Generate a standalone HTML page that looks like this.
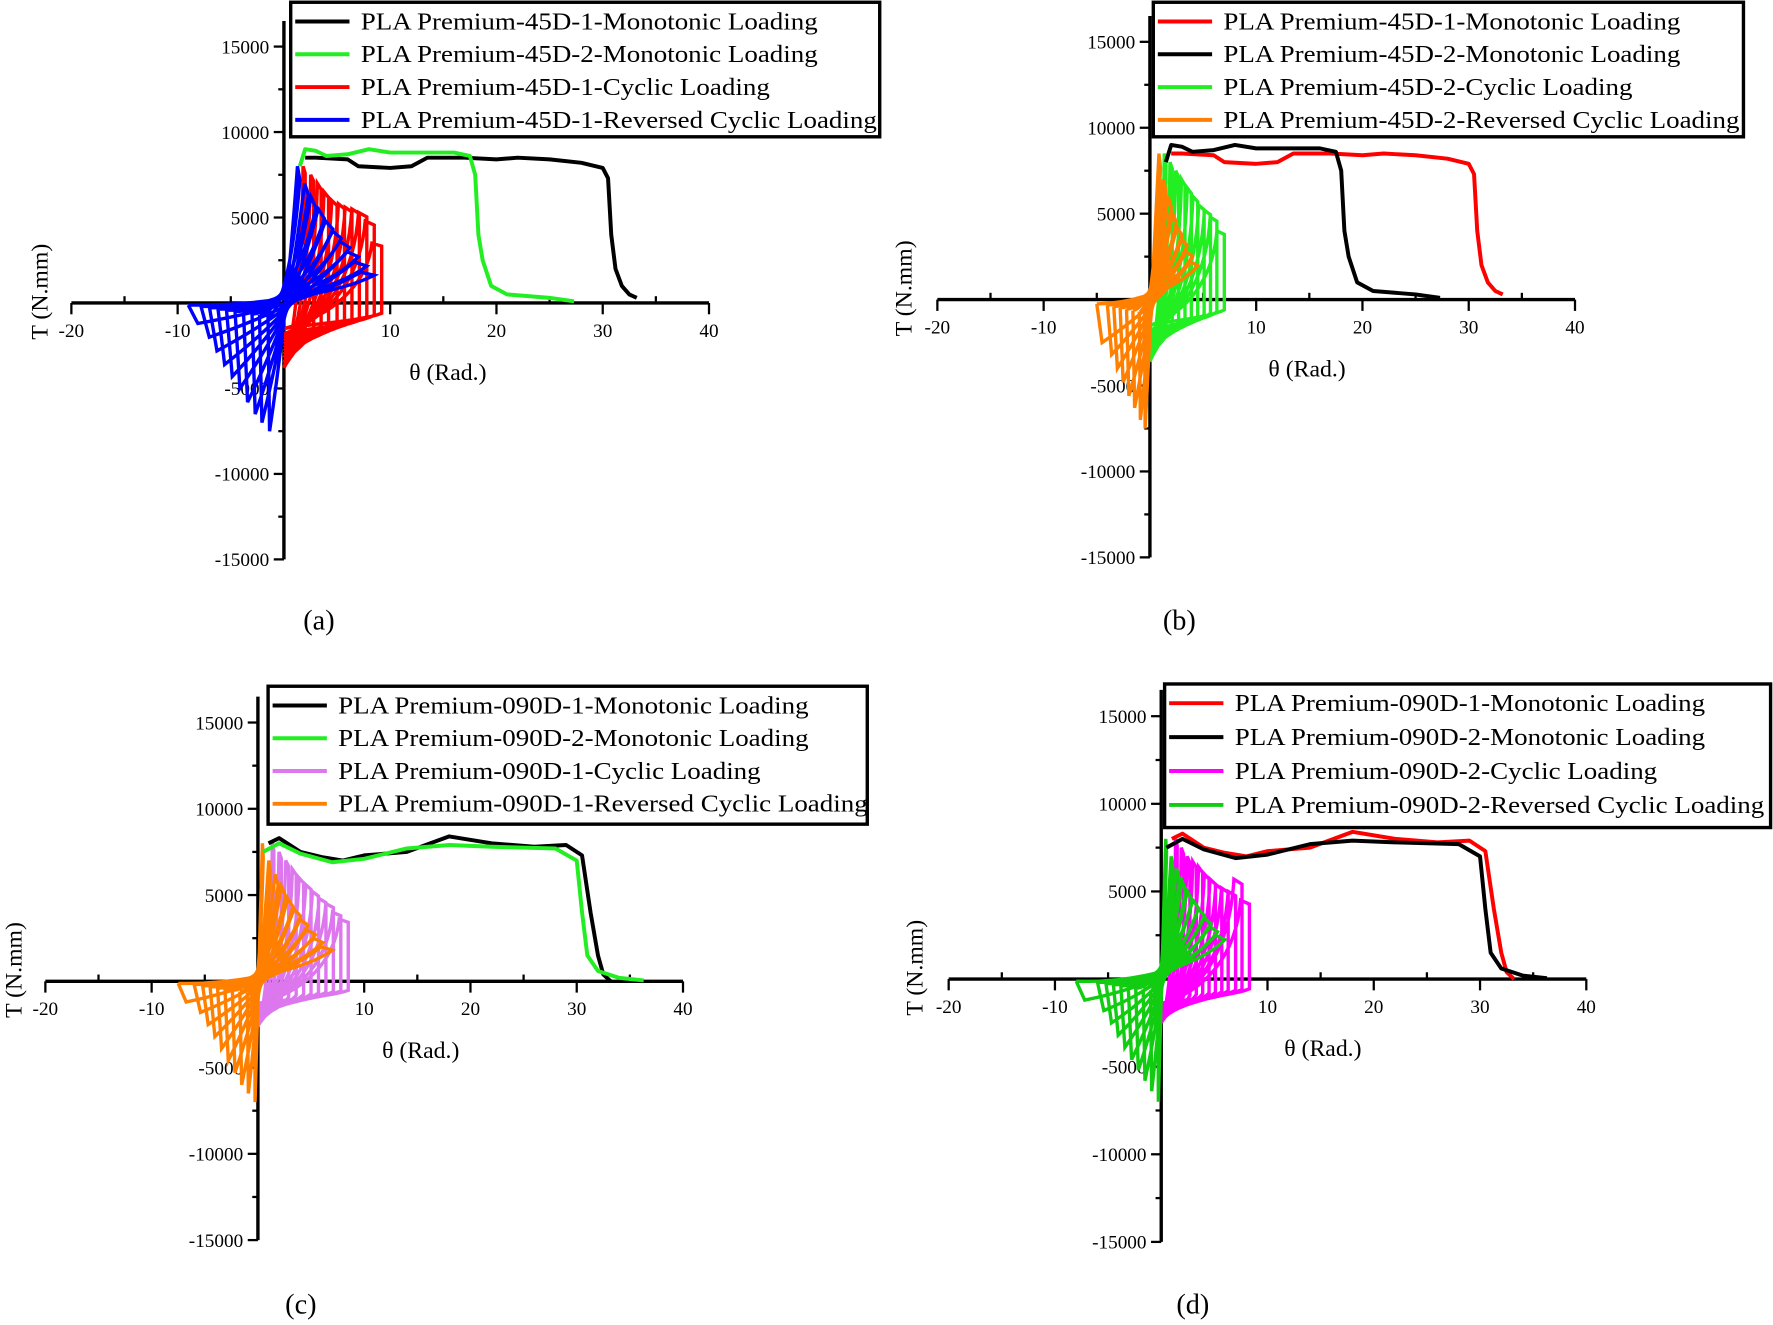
<!DOCTYPE html>
<html><head><meta charset="utf-8"><style>
html,body{margin:0;padding:0;background:#fff}
svg{display:block;font-family:"Liberation Serif",serif}
</style></head><body>
<svg id="fig" width="1773" height="1325" viewBox="0 0 1568 1172" xmlns="http://www.w3.org/2000/svg"></svg>
<script>
// ---- data arrays ----
const mono45_1 = [[2,8500],[3,8500],[6,8400],[7,8000],[10,7900],[12,8000],[13.5,8500],[17,8500],[20,8400],[22,8500],[25,8400],[28,8200],[30,7900],[30.5,7300],[30.8,4000],[31.2,2000],[31.8,1000],[32.5,500],[33.2,300]];
const mono45_2 = [[1.5,8000],[2,9000],[3,8900],[4,8600],[6,8700],[8,9000],[10,8800],[13,8800],[16,8800],[17.5,8600],[18,7500],[18.3,4000],[18.7,2500],[19.5,1000],[21,500],[25,300],[27.3,100]];
const mono090_1 = [[1,8000],[2,8300],[4,7500],[6,7200],[8,7000],[10,7300],[14,7500],[18,8400],[22,8000],[26,7800],[29,7900],[30.5,7300],[31.3,4000],[32,1500],[32.5,400],[33.2,0]];
const mono090_2 = [[0.5,7500],[2,8000],[4,7400],[7,6900],[10,7100],[14,7700],[18,7900],[22,7800],[28,7700],[30,7000],[30.5,4000],[31,1500],[32,600],[34,200],[36.3,50]];
// cyclic: peak theta, peak T, bottom T
const cycA_pk = [2,2.8,3.5,4.2,5,5.7,6.4,7.1,7.8,8.5,9.2];
const cycA_T = [8000,7500,7000,6500,6000,5800,5600,5500,5300,4800,3500];
const cycA_low = [-3800,-3500,-3200,-3000,-2800,-2600,-2400,-2200,-2000,-1800,-1500];
const revA_pk = [1.5,2.3,3,3.8,4.6,5.4,6.2,7,7.8,8.5];
const revA_pT = [8000,7000,6200,5500,4800,4200,3600,3000,2400,1800];
const revA_nk = [-1.5,-2.3,-3,-3.8,-4.6,-5.4,-6.2,-7,-7.8,-9];
const revA_nT = [-7500,-7000,-6500,-5800,-5000,-4300,-3600,-2800,-2000,-1200];
const cycB_pk = [1.5,2.1,2.7,3.3,3.9,4.5,5.1,5.7,6.3,7];
const cycB_T = [8500,8000,7500,7000,6500,6000,5500,5200,4800,4000];
const cycB_low = [-3600,-3300,-3000,-2800,-2600,-2400,-2200,-2000,-1800,-1500];
const revB_pk = [1,1.5,2,2.5,3,3.5,4,4.5];
const revB_pT = [8500,7000,6000,5000,4200,3500,2800,2200];
const revB_nk = [-0.5,-1,-1.6,-2.2,-2.8,-3.4,-4,-5];
const revB_nT = [-7500,-7000,-6300,-5600,-4800,-4000,-3200,-2500];
const cycC_pk = [1.5,2.2,2.9,3.6,4.3,5,5.7,6.4,7.1,7.8,8.5];
const cycC_T = [8000,7500,7000,6500,6000,5600,5200,4800,4500,4000,3600];
const cycC_low = [-2600,-2400,-2200,-2000,-1900,-1800,-1700,-1600,-1500,-1400,-1300];
const revC_pk = [0.5,1.2,1.9,2.6,3.3,4,4.7,5.4,6.1,7];
const revC_pT = [8000,7000,6200,5500,4800,4200,3600,3000,2500,2000];
const revC_nk = [-0.3,-1,-1.7,-2.4,-3.1,-3.8,-4.5,-5.2,-6,-7.5];
const revC_nT = [-7000,-6500,-6000,-5300,-4600,-3900,-3200,-2500,-1800,-1200];
const cycD_pk = [1.5,2.1,2.7,3.3,3.9,4.5,5.1,5.7,6.3,7,7.6,8.3];
const cycD_T = [8000,7500,7000,6700,6400,6000,5700,5400,5200,5000,5700,4500];
const cycD_low = [-2500,-2400,-2300,-2200,-2100,-2000,-1900,-1800,-1700,-1600,-1500,-1400];
const revD_pk = [0.5,1.1,1.7,2.3,2.9,3.5,4.1,4.7,5.3,6];
const revD_pT = [8000,7000,6300,5600,5000,4500,4000,3500,3000,2500];
const revD_nk = [-0.3,-1,-1.7,-2.4,-3.1,-3.8,-4.5,-5.2,-6,-8];
const revD_nT = [-7000,-6400,-5800,-5200,-4600,-3900,-3200,-2500,-1800,-1200];
const xTicks = [-20,-10,10,20,30,40];
const yTicks = [15000,10000,5000,-5000,-10000,-15000];

const NS='http://www.w3.org/2000/svg';
const svg=document.getElementById('fig');
function el(tag,attrs,parent){const e=document.createElementNS(NS,tag);for(const k in attrs)e.setAttribute(k,attrs[k]);(parent||svg).appendChild(e);return e;}

function panel(cfg){
  const g=el('g',{});
  
  
  const X=v=>cfg.x0+v*cfg.sx, Y=v=>cfg.y0-v*cfg.sy;
  const ax=el('line',{x1:X(-20),x2:X(40),y1:Y(0),y2:Y(0),stroke:'#000','stroke-width':3},g);
  
  const ay=el('line',{x1:X(0),x2:X(0),y1:Y(16500),y2:Y(-15000),stroke:'#000','stroke-width':3},g);
  
  for(let v=-20;v<=40;v+=5){
    const maj=v%10===0;
    el('line',{x1:X(v),x2:X(v),y1:Y(0),y2:Y(0)+(maj?10:-6),stroke:'#000','stroke-width':2},g);
  }
  for(let v=-15000;v<=15000;v+=2500){
    const maj=v%5000===0;
    el('line',{x1:X(0),x2:X(0)-(maj?9:5),y1:Y(v),y2:Y(v),stroke:'#000','stroke-width':2},g);
  }
  xTicks.forEach(v=>{const t=el('text',{x:X(v),y:Y(0)+30,'text-anchor':'middle','font-size':17},g);t.textContent=v;
    });
  yTicks.forEach(v=>{const t=el('text',{x:X(0)-13,y:Y(v)+6,'text-anchor':'end','font-size':17},g);t.textContent=v;
    });
  const xl=el('text',{x:cfg.xlx,y:Y(0)+68,'text-anchor':'middle','font-size':21},g);xl.textContent='θ (Rad.)';
  
  const yl=el('text',{x:0,y:0,'text-anchor':'middle','font-size':21,transform:`translate(${cfg.ylx},${Y(0)-10}) rotate(-90)`},g);yl.textContent='T (N.mm)';
  
  const cap=el('text',{x:cfg.capx,y:cfg.capy,'text-anchor':'middle','font-size':25},g);cap.textContent='('+cfg.id+')';
  
  const cyc=cfg.cyc;
  let d='';
  cyc.pk.forEach((p,i)=>{
    const T=cyc.T[i], lo=cyc.low[i];
    d+=`M${X(0)},${Y(lo)} C${X(p*0.5)},${Y(lo*0.5)} ${X(p*0.85)},${Y(T*0.3)} ${X(p*0.9)},${Y(T)} L${X(p)},${Y(T*0.95)} L${X(p)},${Y(lo*0.4)} C${X(p*0.8)},${Y(lo*0.7)} ${X(p*0.3)},${Y(lo*0.8)} ${X(0)},${Y(lo)} `;
  });
  const pc=el('path',{d,fill:'none',stroke:cfg.cycColor,'stroke-width':3},g);
  
  const rv=cfg.rev;
  d='';
  rv.pk.forEach((p,i)=>{
    const pT=rv.pT[i], n=rv.nk[i], nT=rv.nT[i];
    d+=`M${X(n)},${Y(nT*0.1)} L${X(n*0.9)},${Y(nT)} C${X(n*0.3)},${Y(nT*0.5)} ${X(p*0.3)},${Y(pT*0.1)} ${X(p*0.85)},${Y(pT)} L${X(p)},${Y(pT*0.9)} C${X(p*0.6)},${Y(pT*0.3)} ${X(n*0.3)},${Y(-pT*0.1)} ${X(n)},${Y(nT*0.1)} `;
  });
  const pr=el('path',{d,fill:'none',stroke:cfg.revColor,'stroke-width':3},g);
  
  cfg.monos.forEach(([arr,col,nm])=>{
    const p=el('polyline',{points:arr.map(q=>X(q[0])+','+Y(q[1])).join(' '),fill:'none',stroke:col,'stroke-width':3.5,'stroke-linejoin':'round'},g);
    
  });
  const L=cfg.leg;
  const lg=el('g',{},g);
  
  el('rect',{x:L.x,y:L.y,width:L.w,height:L.h,fill:'#fff',stroke:'#000','stroke-width':3},lg);
  L.items.forEach(([txt,col],i)=>{
    const yy=L.y+17+i*L.dy;
    el('line',{x1:L.x+4,x2:L.x+52,y1:yy,y2:yy,stroke:col,'stroke-width':3.5},lg);
    const t=el('text',{x:L.x+62,y:yy+7,'font-size':21.5},lg);t.textContent=txt;
    
    const w=t.getComputedTextLength();
    if(w>0){t.setAttribute('textLength',(w*1.11).toFixed(1));t.setAttribute('lengthAdjust','spacingAndGlyphs');}
  });
}

const k=9.4;
panel({id:'a',x0:251,y0:268,sx:k,sy:75.6/5000,xlx:396,ylx:42,capx:282,capy:557,
  cyc:{pk:cycA_pk,T:cycA_T,low:cycA_low},cycColor:'#ff0000',
  rev:{pk:revA_pk,pT:revA_pT,nk:revA_nk,nT:revA_nT},revColor:'#0000ff',
  monos:[[mono45_1,'#000','monotonic-45d-1'],[mono45_2,'#22ee22','monotonic-45d-2']],
  leg:{x:257,y:2,w:521,h:119,dy:29,items:[['PLA Premium-45D-1-Monotonic Loading','#000'],['PLA Premium-45D-2-Monotonic Loading','#22ee22'],['PLA Premium-45D-1-Cyclic Loading','#ff0000'],['PLA Premium-45D-1-Reversed Cyclic Loading','#0000ff']]}});
panel({id:'b',x0:1017,y0:265,sx:k,sy:76/5000,xlx:1156,ylx:806,capx:1043,capy:557,
  cyc:{pk:cycB_pk,T:cycB_T,low:cycB_low},cycColor:'#22ee22',
  rev:{pk:revB_pk,pT:revB_pT,nk:revB_nk,nT:revB_nT},revColor:'#ff8000',
  monos:[[mono45_1,'#ff0000','monotonic-45d-1'],[mono45_2,'#000','monotonic-45d-2']],
  leg:{x:1020,y:2,w:522,h:119,dy:29,items:[['PLA Premium-45D-1-Monotonic Loading','#ff0000'],['PLA Premium-45D-2-Monotonic Loading','#000'],['PLA Premium-45D-2-Cyclic Loading','#22ee22'],['PLA Premium-45D-2-Reversed Cyclic Loading','#ff8000']]}});
panel({id:'c',x0:228,y0:868,sx:k,sy:76.3/5000,xlx:372,ylx:19,capx:266,capy:1162,
  cyc:{pk:cycC_pk,T:cycC_T,low:cycC_low},cycColor:'#dd77ee',
  rev:{pk:revC_pk,pT:revC_pT,nk:revC_nk,nT:revC_nT},revColor:'#ff8000',
  monos:[[mono090_1,'#000','monotonic-090d-1'],[mono090_2,'#22ee22','monotonic-090d-2']],
  leg:{x:237,y:607,w:530,h:122,dy:29,items:[['PLA Premium-090D-1-Monotonic Loading','#000'],['PLA Premium-090D-2-Monotonic Loading','#22ee22'],['PLA Premium-090D-1-Cyclic Loading','#dd77ee'],['PLA Premium-090D-1-Reversed Cyclic Loading','#ff8000']]}});
panel({id:'d',x0:1027,y0:866,sx:k,sy:77.5/5000,xlx:1170,ylx:816,capx:1055,capy:1162,
  cyc:{pk:cycD_pk,T:cycD_T,low:cycD_low},cycColor:'#ff00ff',
  rev:{pk:revD_pk,pT:revD_pT,nk:revD_nk,nT:revD_nT},revColor:'#11cc11',
  monos:[[mono090_1,'#ff0000','monotonic-090d-1'],[mono090_2,'#000','monotonic-090d-2']],
  leg:{x:1030,y:605,w:536,h:127,dy:30,items:[['PLA Premium-090D-1-Monotonic Loading','#ff0000'],['PLA Premium-090D-2-Monotonic Loading','#000'],['PLA Premium-090D-2-Cyclic Loading','#ff00ff'],['PLA Premium-090D-2-Reversed Cyclic Loading','#11cc11']]}});
</script>
</body></html>
